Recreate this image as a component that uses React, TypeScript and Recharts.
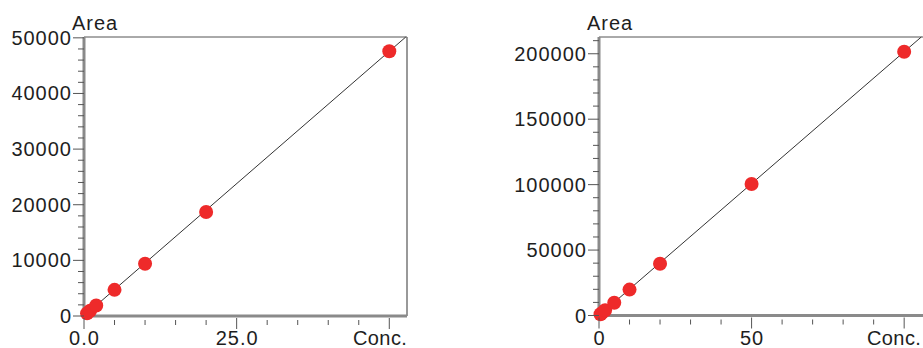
import { ComposedChart, Line, Scatter, XAxis, YAxis, ReferenceLine, Label } from 'recharts'

// left calibration curve
const leftConc = [0.5, 1, 2, 5, 10, 20, 50]
const leftArea = [480, 950, 1880, 4700, 9400, 18700, 47600]
const leftFitConc = [0, 52.7]
const leftFitArea = [0, 50150]
const leftYTicks = [0, 10000, 20000, 30000, 40000, 50000]
const leftXTicks = [0, 25, 50]
const leftXLabels = ['0.0', '25.0', '']

// right calibration curve
const rightConc = [0.5, 1, 2, 5, 10, 20, 50, 100]
const rightArea = [1000, 2000, 4000, 9700, 19800, 39500, 100500, 201500]
const rightFitConc = [0, 105.6]
const rightFitArea = [0, 212800]
const rightYTicks = [0, 50000, 100000, 150000, 200000]
const rightXTicks = [0, 50, 100]
const rightXLabels = ['0', '50', '']

const FONT = '"Liberation Sans", Arial, sans-serif'
const TEXT = '#1e1e1e'
const SPACING = 1

const range = (step: number, max: number) => {
  const out: number[] = []
  for (let v = 0; v <= max + 1e-9; v += step) out.push(Math.round(v * 1000) / 1000)
  return out
}

interface PanelProps {
  conc: number[]
  area: number[]
  fitConc: number[]
  fitArea: number[]
  yMajor: number[]
  yMinorStep: number
  yMax: number
  xMajor: number[]
  xLabels: string[]
  xMinorStep: number
  xMax: number
  width: number
  left: number
  top: number
  right: number
  bottom: number
  concX: number
}

function Panel(p: PanelProps) {
  const points = p.conc.map((c, i) => ({ x: c, y: p.area[i] }))
  const fit = p.fitConc.map((c, i) => ({ x: c, y: p.fitArea[i] }))
  const yTicks = range(p.yMinorStep, p.yMax)
  const xTicks = range(p.xMinorStep, p.xMax)

  const YTick = (t: any) => {
    const v = t.payload.value
    const major = p.yMajor.includes(v)
    return (
      <g>
        <line x1={t.x} x2={t.x - (major ? 11 : 6)} y1={t.y} y2={t.y} stroke="#555" strokeWidth={1} />
        {major && (
          <text x={t.x - 12} y={t.y} dy={7} textAnchor="end" fontSize={20} letterSpacing={SPACING} fontFamily={FONT} fill={TEXT}>
            {v}
          </text>
        )}
      </g>
    )
  }

  const XTick = (t: any) => {
    const v = t.payload.value
    const idx = p.xMajor.indexOf(v)
    const major = idx >= 0
    return (
      <g>
        <line x1={t.x} x2={t.x} y1={t.y + (major ? 2 : 4)} y2={t.y + (major ? 13 : 9)} stroke="#555" strokeWidth={1} />
        {major && p.xLabels[idx] && (
          <text x={t.x + 0.5} y={t.y + 29} textAnchor="middle" fontSize={20} letterSpacing={SPACING} fontFamily={FONT} fill={TEXT}>
            {p.xLabels[idx]}
          </text>
        )}
      </g>
    )
  }

  return (
    <ComposedChart width={p.width} height={348} margin={{ top: p.top, right: p.right, bottom: 0, left: 0 }}>
      <XAxis
        type="number"
        dataKey="x"
        domain={[0, p.xMax]}
        ticks={xTicks}
        interval={0}
        height={p.bottom}
        tickSize={0}
        tickMargin={0}
        tickLine={false}
        tick={XTick}
        axisLine={{ stroke: '#8a8a8a', strokeWidth: 3 }}
      >
        <Label
          content={() => (
            <text x={p.concX} y={345} fontSize={20} letterSpacing={0.4} fontFamily={FONT} fill={TEXT}>
              Conc.
            </text>
          )}
        />
      </XAxis>
      <YAxis
        type="number"
        dataKey="y"
        domain={[0, p.yMax]}
        ticks={yTicks}
        interval={0}
        width={p.left}
        tickSize={0}
        tickMargin={0}
        tickLine={false}
        tick={YTick}
        axisLine={{ stroke: '#8a8a8a', strokeWidth: 3 }}
      >
        <Label
          content={() => (
            <text x={p.left - 12} y={30} fontSize={20} letterSpacing={SPACING} fontFamily={FONT} fill={TEXT}>
              Area
            </text>
          )}
        />
      </YAxis>
      <ReferenceLine y={p.yMax} stroke="#555" strokeWidth={1} />
      <ReferenceLine x={p.xMax} stroke="#777" strokeWidth={1.5} />
      <Line data={fit} dataKey="y" type="linear" stroke="#333" strokeWidth={1} dot={false} isAnimationActive={false} />
      <Scatter
        data={points}
        dataKey="y"
        isAnimationActive={false}
        shape={(s: any) => <circle cx={s.cx} cy={s.cy} r={7} fill="#ee2a2a" />}
      />
    </ComposedChart>
  )
}

export default function App() {
  return (
    <div style={{ position: 'absolute', left: 0, top: 0, width: 923, height: 348, overflow: 'hidden', background: '#fff' }}>
      <div style={{ position: 'absolute', left: 0, top: 0 }}>
        <Panel
          conc={leftConc}
          area={leftArea}
          fitConc={leftFitConc}
          fitArea={leftFitArea}
          yMajor={leftYTicks}
          yMinorStep={2000}
          yMax={50150}
          xMajor={leftXTicks}
          xLabels={leftXLabels}
          xMinorStep={5}
          xMax={52.9}
          width={420}
          left={84}
          top={37}
          right={13}
          bottom={32}
          concX={353}
        />
      </div>
      <div style={{ position: 'absolute', left: 500, top: 0 }}>
        <Panel
          conc={rightConc}
          area={rightArea}
          fitConc={rightFitConc}
          fitArea={rightFitArea}
          yMajor={rightYTicks}
          yMinorStep={10000}
          yMax={212800}
          xMajor={rightXTicks}
          xLabels={rightXLabels}
          xMinorStep={10}
          xMax={106.5}
          width={426}
          left={99}
          top={37}
          right={2}
          bottom={32.5}
          concX={367}
        />
      </div>
    </div>
  )
}
